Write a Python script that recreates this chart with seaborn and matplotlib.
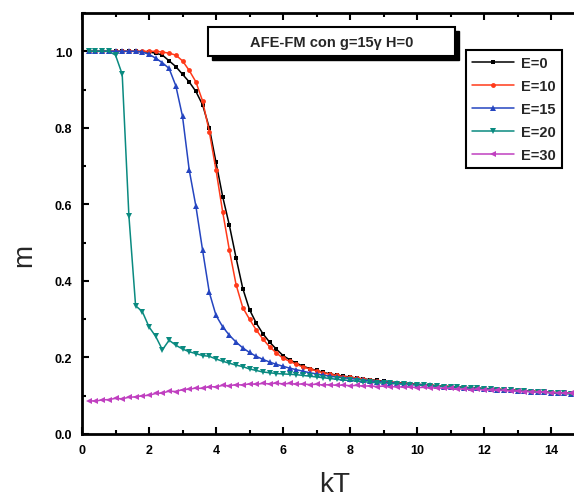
import numpy as np
import pandas as pd
import seaborn as sns
import matplotlib.pyplot as plt
from matplotlib.patches import Rectangle
from matplotlib.ticker import MultipleLocator

# kT grid and magnetisation m for each E
kT = [0.2, 0.4, 0.6, 0.8, 1.0, 1.2, 1.4, 1.6, 1.8, 2.0,
      2.2, 2.4, 2.6, 2.8, 3.0, 3.2, 3.4, 3.6, 3.8, 4.0,
      4.2, 4.4, 4.6, 4.8, 5.0, 5.2, 5.4, 5.6, 5.8, 6.0,
      6.2, 6.4, 6.6, 6.8, 7.0, 7.2, 7.4, 7.6, 7.8, 8.0,
      8.2, 8.4, 8.6, 8.8, 9.0, 9.2, 9.4, 9.6, 9.8, 10.0,
      10.2, 10.4, 10.6, 10.8, 11.0, 11.2, 11.4, 11.6, 11.8, 12.0,
      12.2, 12.4, 12.6, 12.8, 13.0, 13.2, 13.4, 13.6, 13.8, 14.0,
      14.2, 14.4, 14.6, 14.8, 15.0]

m_e0 = [1.0, 1.0, 1.0, 1.0, 1.0, 1.0, 1.0, 1.0, 0.999, 0.998,
        0.995, 0.99, 0.975, 0.96, 0.94, 0.92, 0.895, 0.86, 0.80, 0.71,
        0.62, 0.545, 0.46, 0.38, 0.325, 0.29, 0.262, 0.24, 0.222, 0.205,
        0.194, 0.185, 0.177, 0.171, 0.166, 0.161, 0.157, 0.154, 0.151, 0.149,
        0.146, 0.144, 0.142, 0.140, 0.138, 0.136, 0.134, 0.133, 0.131, 0.130,
        0.129, 0.128, 0.126, 0.125, 0.124, 0.123, 0.122, 0.121, 0.120, 0.119,
        0.118, 0.117, 0.116, 0.115, 0.114, 0.113, 0.112, 0.111, 0.110, 0.109,
        0.108, 0.107, 0.106, 0.105, 0.104]

m_e10 = [1.0, 1.0, 1.0, 1.0, 1.0, 1.0, 1.0, 1.0, 1.0, 1.0,
         1.0, 0.998, 0.995, 0.99, 0.975, 0.95, 0.92, 0.87, 0.79, 0.69,
         0.58, 0.48, 0.39, 0.33, 0.30, 0.272, 0.248, 0.228, 0.212, 0.198,
         0.19, 0.182, 0.175, 0.17, 0.165, 0.16, 0.156, 0.153, 0.15, 0.148,
         0.146, 0.143, 0.141, 0.139, 0.137, 0.135, 0.134, 0.132, 0.131, 0.129,
         0.128, 0.127, 0.126, 0.125, 0.124, 0.122, 0.121, 0.120, 0.119, 0.118,
         0.118, 0.117, 0.116, 0.115, 0.114, 0.113, 0.112, 0.111, 0.110, 0.109,
         0.108, 0.107, 0.106, 0.105, 0.104]

m_e15 = [1.0, 1.0, 1.0, 1.0, 1.0, 1.0, 1.0, 1.0, 0.998, 0.992,
         0.982, 0.97, 0.955, 0.91, 0.83, 0.69, 0.595, 0.48, 0.37, 0.31,
         0.28, 0.258, 0.24, 0.225, 0.213, 0.203, 0.195, 0.188, 0.182, 0.177,
         0.172, 0.168, 0.164, 0.16, 0.157, 0.154, 0.151, 0.149, 0.147, 0.145,
         0.143, 0.141, 0.139, 0.137, 0.136, 0.134, 0.133, 0.131, 0.130, 0.129,
         0.128, 0.127, 0.125, 0.124, 0.123, 0.122, 0.121, 0.120, 0.119, 0.118,
         0.117, 0.116, 0.115, 0.114, 0.113, 0.112, 0.111, 0.110, 0.109, 0.108,
         0.107, 0.106, 0.105, 0.104, 0.103]

m_e20 = [1.0, 1.0, 1.0, 1.0, 0.99, 0.94, 0.57, 0.335, 0.32, 0.28,
         0.255, 0.22, 0.245, 0.232, 0.222, 0.215, 0.21, 0.205, 0.203, 0.196,
         0.19, 0.185, 0.18, 0.176, 0.17, 0.166, 0.162, 0.16, 0.158, 0.157,
         0.156, 0.155, 0.153, 0.151, 0.149, 0.147, 0.145, 0.143, 0.141, 0.140,
         0.138, 0.137, 0.135, 0.134, 0.133, 0.132, 0.131, 0.130, 0.129, 0.128,
         0.127, 0.126, 0.125, 0.124, 0.123, 0.122, 0.121, 0.120, 0.119, 0.118,
         0.117, 0.116, 0.115, 0.114, 0.113, 0.112, 0.111, 0.110, 0.109, 0.108,
         0.107, 0.106, 0.105, 0.104, 0.103]

m_e30 = [0.087, 0.086, 0.089, 0.090, 0.093, 0.092, 0.096, 0.097, 0.100, 0.101,
         0.106, 0.107, 0.112, 0.111, 0.116, 0.117, 0.120, 0.119, 0.124, 0.123,
         0.127, 0.126, 0.129, 0.128, 0.131, 0.130, 0.132, 0.131, 0.133, 0.131,
         0.132, 0.130, 0.131, 0.129, 0.130, 0.128, 0.129, 0.127, 0.128, 0.126,
         0.127, 0.125, 0.126, 0.124, 0.125, 0.123, 0.124, 0.122, 0.123, 0.121,
         0.122, 0.120, 0.121, 0.119, 0.119, 0.117, 0.118, 0.116, 0.117, 0.115,
         0.115, 0.114, 0.114, 0.112, 0.113, 0.111, 0.111, 0.109, 0.110, 0.108,
         0.108, 0.106, 0.107, 0.105, 0.104]

labels = ['E=0', 'E=10', 'E=15', 'E=20', 'E=30']
series = [m_e0, m_e10, m_e15, m_e20, m_e30]
colors = ['#000000', '#ff3a1a', '#2545c0', '#0a8a80', '#c040c0']
markers = ['s', 'o', '^', 'v', '<']
msizes = [3.5, 3.5, 5, 5, 5]

sns.set_style('ticks')
plt.rcParams['font.family'] = ['Liberation Sans', 'DejaVu Sans']

W, H = 574, 502
fig = plt.figure(figsize=(W / 100, H / 100), dpi=100)
fig.patch.set_facecolor('white')

# axes box in pixels: left 82, bottom 435, top 14, 33.5 px per kT unit;
# the right side of the frame is cut off by the figure edge
x0, y0, ytop, pxu = 82, 435, 14, 33.5
aw = W - x0
ax = fig.add_axes([x0 / W, (H - y0) / H, aw / W, (y0 - ytop) / H])

for lab, vals, c, mk, ms in zip(labels, series, colors, markers, msizes):
    df = pd.DataFrame({'kT': kT, 'm': vals})
    sns.lineplot(data=df, x='kT', y='m', color=c, marker=mk, markersize=ms,
                 markeredgewidth=0, linewidth=1.1, label=lab, ax=ax)

ax.set_xlim(0, aw / pxu)
ax.set_ylim(0, 1.1)
ax.xaxis.set_major_locator(MultipleLocator(2))
ax.xaxis.set_minor_locator(MultipleLocator(1))
ax.yaxis.set_major_locator(MultipleLocator(0.2))
ax.yaxis.set_minor_locator(MultipleLocator(0.1))
ax.xaxis.set_major_formatter(plt.FuncFormatter(lambda v, p: f'{int(round(v))}'))
ax.yaxis.set_major_formatter(plt.FuncFormatter(lambda v, p: f'{v:.1f}'))

ax.tick_params(which='both', direction='in', top=True, right=False,
               width=1.5, colors='black')
ax.tick_params(which='major', length=5, labelsize=9, pad=7)
ax.tick_params(which='minor', length=3)
for t in ax.get_xticklabels() + ax.get_yticklabels():
    t.set_fontweight('bold')
for s in ['left', 'bottom', 'top']:
    ax.spines[s].set_linewidth(2)
    ax.spines[s].set_color('black')
ax.spines['right'].set_visible(False)

ax.set_xlabel('kT', fontsize=20)
ax.set_ylabel('m', fontsize=20)
ax.xaxis.set_label_coords((335 - x0) / aw, -0.088)
ax.yaxis.set_label_coords(-0.0915, (y0 - 255) / (y0 - ytop))

leg = ax.legend(loc='upper left', bbox_to_anchor=(466 / W, 1 - 51 / H),
                bbox_transform=fig.transFigure, borderaxespad=0,
                frameon=True, fancybox=False, framealpha=1,
                edgecolor='black', handlelength=2.9, labelspacing=0.62,
                borderpad=0.4, handletextpad=0.5,
                prop={'weight': 'bold', 'size': 10.5})
leg.get_frame().set_linewidth(1.5)

# title box with drop shadow (pixel coords)
def px_rect(x, y, w, h, **kw):
    return Rectangle((x / W, 1 - (y + h) / H), w / W, h / H,
                     transform=fig.transFigure, **kw)

fig.add_artist(px_rect(212, 32, 247, 29, facecolor='black', edgecolor='black'))
fig.add_artist(px_rect(208, 28, 247, 29, facecolor='white', edgecolor='black',
                       linewidth=1.5))
fig.text((208 + 247 / 2) / W, 1 - (28 + 14.5) / H, 'AFE-FM con g=15γ H=0',
         ha='center', va='center', fontsize=10.5, fontweight='bold')

fig.savefig('out.png', dpi=100)
